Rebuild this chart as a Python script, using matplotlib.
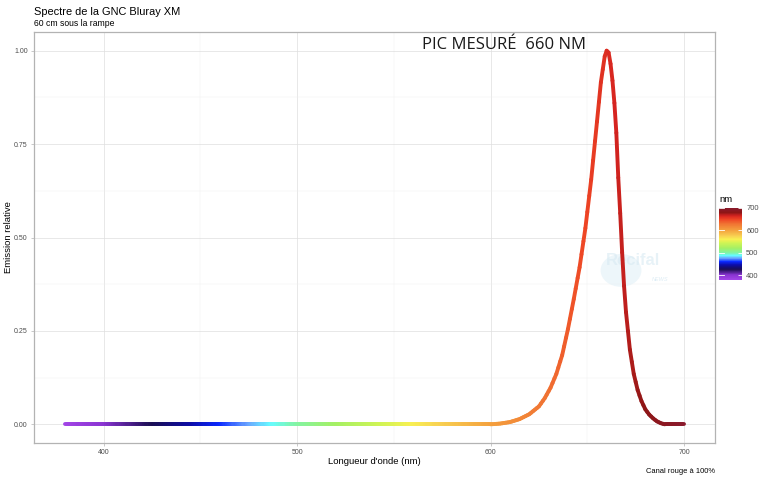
import numpy as np
import matplotlib
matplotlib.use("Agg")
import matplotlib.pyplot as plt
from matplotlib.collections import LineCollection
from matplotlib.colors import LinearSegmentedColormap, Normalize
from matplotlib.patches import Ellipse

# spectre (longueur d'onde en nm, emission relative)
wavelength = [380, 385, 390, 395, 400, 405, 410, 415, 420, 425, 430, 435, 440,
              445, 450, 455, 460, 465, 470, 475, 480, 485, 490, 495, 500, 505,
              510, 515, 520, 525, 530, 535, 540, 545, 550, 555, 560, 565, 570,
              575, 580, 585, 590, 595, 600, 605, 610, 615, 620, 625, 628, 631,
              634, 637, 640, 643, 646, 649, 652, 655, 657, 659, 660, 661, 662,
              663, 664, 665, 666, 667, 668, 669, 670, 672, 674, 676, 678, 680,
              682, 684, 686, 688, 690, 695, 700]
emission = [0.0, 0.0, 0.0, 0.0, 0.0, 0.0, 0.0, 0.0, 0.0, 0.0, 0.0, 0.0, 0.0,
            0.0, 0.0, 0.0, 0.0, 0.0, 0.0, 0.0, 0.0, 0.0, 0.0, 0.0, 0.0, 0.0,
            0.0, 0.0, 0.0, 0.0, 0.0, 0.0, 0.0, 0.0, 0.0, 0.0, 0.0, 0.0, 0.0,
            0.0, 0.0, 0.0, 0.0, 0.0, 0.0, 0.002, 0.006, 0.014, 0.027, 0.048, 0.070, 0.098,
            0.135, 0.185, 0.255, 0.335, 0.420, 0.525, 0.655, 0.810, 0.915, 0.985, 1.000, 0.995, 0.965,
            0.920, 0.860, 0.780, 0.660, 0.565, 0.460, 0.370, 0.300, 0.200, 0.135, 0.092, 0.062, 0.040,
            0.026, 0.016, 0.008, 0.003, 0.0, 0.0, 0.0]

x_ticks = [400, 500, 600, 700]
y_ticks = [0.00, 0.25, 0.50, 0.75, 1.00]
legend_ticks = [400, 500, 600, 700]

# couleurs du spectre visible
spec_stops = [380, 400, 425, 445, 460, 475, 487, 500, 520, 545, 560, 575, 600, 630, 650, 665, 680, 700]
spec_cols = ["#a244e6", "#8a34d2", "#1a0e52", "#0c0ca6", "#0a28ff", "#6aa4ff", "#66fcff",
             "#82f4a4", "#a4f064", "#d2f454", "#f8f052", "#f8d052", "#f4a23e", "#f07232",
             "#ee4424", "#d62420", "#8e1616", "#8a1a2c"]
vmin, vmax = 380, 700
cmap = LinearSegmentedColormap.from_list(
    "spectre", [((s - vmin) / (vmax - vmin), c) for s, c in zip(spec_stops, spec_cols)])
norm = Normalize(vmin, vmax)

plt.rcParams["font.family"] = ["Liberation Sans", "DejaVu Sans"]

fig = plt.figure(figsize=(7.68, 4.8), dpi=100)
ax = fig.add_axes([34 / 768, 1 - 443 / 480, (715 - 34) / 768, (443 - 32) / 480])

# segments colores (decoupes finement pour un degrade continu)
segs, cols = [], []
for i in range(len(wavelength) - 1):
    x0, x1 = wavelength[i], wavelength[i + 1]
    y0, y1 = emission[i], emission[i + 1]
    n = max(1, int(np.ceil(x1 - x0)))
    for k in range(n):
        a, b = k / n, (k + 1) / n
        xa, xb = x0 + a * (x1 - x0), x0 + b * (x1 - x0)
        ya, yb = y0 + a * (y1 - y0), y0 + b * (y1 - y0)
        segs.append([(xa, ya), (xb, yb)])
        cols.append(cmap(norm((xa + xb) / 2)))
lc = LineCollection(segs, colors=cols, linewidths=2.8, capstyle="round",
                    joinstyle="round", zorder=3)
ax.add_collection(lc)

ax.set_xlim(364, 716)
ax.set_ylim(-0.05, 1.05)
ax.set_xticks(x_ticks)
ax.set_xticks([450, 550, 650], minor=True)
ax.set_yticks(y_ticks)
ax.set_yticks([0.125, 0.375, 0.625, 0.875], minor=True)
ax.set_xticklabels([str(t) for t in x_ticks])
ax.set_yticklabels(["%.2f" % t for t in y_ticks])
ax.grid(which="major", color="#dedede", linewidth=0.5)
ax.grid(which="minor", color="#efefef", linewidth=0.35)
ax.set_axisbelow(True)
for sp in ax.spines.values():
    sp.set_color("#b3b3b3")
    sp.set_linewidth(0.9)
ax.tick_params(which="major", length=2.5, width=0.5, color="#b3b3b3",
               labelsize=5.0, labelcolor="#4d4d4d", pad=2)
ax.tick_params(which="minor", length=0)

ax.set_xlabel("Longueur d'onde (nm)", fontsize=6.8)
ax.set_ylabel("Emission relative", fontsize=6.8)
ax.xaxis.set_label_coords(0.5, -18 / 411, transform=ax.transAxes)
ax.yaxis.set_label_coords(-25 / 681, 0.5, transform=ax.transAxes)
ax.xaxis.label.set_va("center")
ax.yaxis.label.set_va("center")

ax.text(607, 1.016, "PIC MESURÉ  660 NM", fontsize=12, family=["Open Sans", "DejaVu Sans"],
        ha="center", va="center", color="#1a1a1a", zorder=4)

# filigrane
ax.add_patch(Ellipse((0.862, 0.42), 0.06, 0.08, transform=ax.transAxes,
                     color="#e2f0f7", alpha=0.6, zorder=1, lw=0))
ax.text(0.88, 0.445, "Recifal", transform=ax.transAxes, fontsize=12, fontweight="bold",
        color="#d8eaf3", alpha=0.6, ha="center", va="center", zorder=1)
ax.text(0.92, 0.398, "NEWS", transform=ax.transAxes, fontsize=4, fontstyle="italic",
        color="#c6e0ee", alpha=0.6, ha="center", va="center", zorder=1)

fig.text(34 / 768, 1 - 15 / 480, "Spectre de la GNC Bluray XM", fontsize=7.9, va="baseline")
fig.text(34 / 768, 1 - 26.5 / 480, "60 cm sous la rampe", fontsize=6.2, va="baseline")
fig.text(715 / 768, 1 - 473 / 480, "Canal rouge à 100%", fontsize=5.4, ha="right", va="baseline")

# legende en barre de couleur
cax = fig.add_axes([719 / 768, 1 - 279.5 / 480, 23 / 768, 71.5 / 480])
sm = plt.cm.ScalarMappable(norm=norm, cmap=cmap)
cb = fig.colorbar(sm, cax=cax, ticks=legend_ticks)
cb.outline.set_visible(False)
cax.tick_params(length=3, width=0.6, color="white", direction="in",
                labelsize=5.4, labelcolor="#4d4d4d", pad=3)
for t in legend_ticks:
    cax.plot([0, 0.2], [t, t], color="white", lw=0.6, transform=cax.get_yaxis_transform())
cax.set_title("nm", fontsize=6.8, loc="left", pad=4)

fig.savefig("out.png", dpi=100)
